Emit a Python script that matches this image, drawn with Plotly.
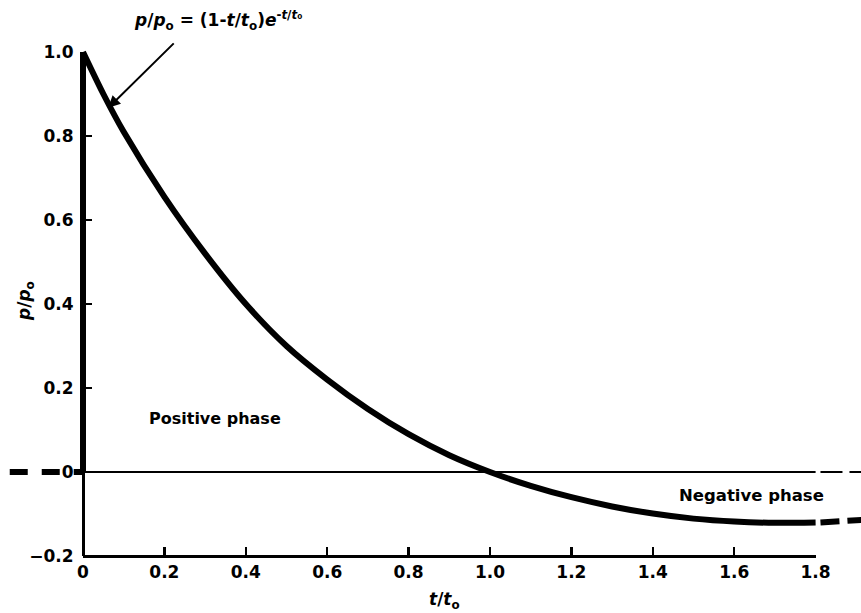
import plotly.graph_objects as go

# ---- data ----
t_decay = [0.0, 0.05, 0.1, 0.2, 0.3, 0.4, 0.5, 0.6, 0.7, 0.8, 0.9, 1.0,
           1.1, 1.2, 1.3, 1.4, 1.5, 1.6, 1.7, 1.8]
p_decay = [1.0, 0.90, 0.81, 0.655, 0.52, 0.40, 0.30, 0.22, 0.15, 0.09, 0.04, 0.0,
           -0.033, -0.06, -0.082, -0.099, -0.111, -0.118, -0.121, -0.120]
t_rise = [0.0, 0.0]
p_rise = [0.0, 1.0]
t_before = [-0.18, 0.0]
p_before = [0.0, 0.0]
t_after = [1.812, 1.912]
p_after = [-0.120, -0.114]
t_zero = [0.0, 1.8]
t_zero_after = [1.812, 1.912]
zero_vals = [0.0, 0.0]

x_ticks = [0, 0.2, 0.4, 0.6, 0.8, 1.0, 1.2, 1.4, 1.6, 1.8]
x_ticktext = ["0", "0.2", "0.4", "0.6", "0.8", "1.0", "1.2", "1.4", "1.6", "1.8"]
y_ticks = [-0.2, 0, 0.2, 0.4, 0.6, 0.8, 1.0]
y_ticktext = ["\u22120.2", "0", "0.2", "0.4", "0.6", "0.8", "1.0"]

W, H = 861, 613
FONT = "DejaVu Sans, Verdana, sans-serif"
PX_X = 407.0          # pixels per unit of t/t0
X0_PX = 83.0          # pixel of t = 0
PX_Y = 420.0          # pixels per unit of p/p0
Y0_PX = 472.0         # pixel of p = 0
BOTTOM = 556.0        # pixel of p = -0.2 (bottom of plot area)

x_range = [-X0_PX / PX_X, (W - X0_PX) / PX_X]
y_range = [-0.2, Y0_PX / PX_Y]

fig = go.Figure()
CURVE_W = 6

fig.add_trace(go.Scatter(x=t_zero, y=zero_vals, mode="lines",
                         line=dict(color="black", width=2), hoverinfo="skip"))
fig.add_trace(go.Scatter(x=t_zero_after, y=zero_vals, mode="lines",
                         line=dict(color="black", width=2, dash="22px,7px"), hoverinfo="skip"))
fig.add_trace(go.Scatter(x=t_before, y=p_before, mode="lines",
                         line=dict(color="black", width=CURVE_W, dash="18px,14px"), hoverinfo="skip"))
fig.add_trace(go.Scatter(x=t_rise, y=p_rise, mode="lines",
                         line=dict(color="black", width=CURVE_W), hoverinfo="skip"))
fig.add_trace(go.Scatter(x=t_decay, y=p_decay, mode="lines",
                         line=dict(color="black", width=CURVE_W, shape="spline", smoothing=0.8),
                         hoverinfo="skip"))
fig.add_trace(go.Scatter(x=t_after, y=p_after, mode="lines",
                         line=dict(color="black", width=CURVE_W, dash="19px,8px"), hoverinfo="skip"))
# trace on the visible axes subplot (invisible) so those axes render
fig.add_trace(go.Scatter(x=[0, 1.8], y=[-0.2, -0.2], xaxis="x2", yaxis="y2", mode="lines",
                         line=dict(color="rgba(0,0,0,0)", width=0), hoverinfo="skip"))

tickfont = dict(family=FONT, size=17, color="black", weight="bold")

fig.update_layout(
    width=W, height=H,
    margin=dict(l=0, r=0, t=0, b=H - BOTTOM, autoexpand=False),
    paper_bgcolor="white", plot_bgcolor="rgba(0,0,0,0)",
    showlegend=False,
    xaxis=dict(range=x_range, domain=[0, 1], visible=False, fixedrange=True, automargin=False),
    yaxis=dict(range=y_range, domain=[0, 1], visible=False, fixedrange=True, automargin=False),
    xaxis2=dict(range=[0, 1.8], domain=[X0_PX / W, (X0_PX + 1.8 * PX_X) / W],
                anchor="free", position=0, showline=True, linecolor="black", linewidth=2.5,
                ticks="inside", ticklen=8, tickwidth=2.5, tickcolor="black",
                tickvals=x_ticks, ticktext=x_ticktext, tickfont=tickfont, automargin=False,
                showgrid=False, zeroline=False, fixedrange=True),
    yaxis2=dict(range=[-0.2, 1.0], domain=[0, (BOTTOM - (Y0_PX - PX_Y)) / BOTTOM],
                anchor="free", position=X0_PX / W, showline=True, linecolor="black", linewidth=2.5,
                ticks="inside", ticklen=7, tickwidth=2.5, tickcolor="black",
                tickvals=y_ticks, ticktext=y_ticktext, tickfont=tickfont, automargin=False,
                ticklabelstandoff=5,
                showgrid=False, zeroline=False, fixedrange=True),
)

def py(pix):
    return (BOTTOM - pix) / BOTTOM

def px(pix):
    return pix / W

annots = [
    dict(text="<i>p</i>/<i>p</i><sub>o</sub> = (1-<i>t</i>/<i>t</i><sub>o</sub>)<i>e</i><sup>-<i>t</i>/<i>t</i>\u2080</sup>",
         x=px(218), y=py(21), size=17),
    dict(text="Positive phase", x=px(215), y=py(418), size=16),
    dict(text="Negative phase", x=px(751), y=py(495), size=16.5),
    dict(text="<i>t</i>/<i>t</i><sub>o</sub>", x=px(444), y=py(600), size=17),
]
for a in annots:
    fig.add_annotation(text=a["text"], x=a["x"], y=a["y"], xref="paper", yref="paper",
                       showarrow=False, xanchor="center", yanchor="middle",
                       font=dict(family=FONT, size=a["size"], color="black", weight="bold"))

fig.add_annotation(text="<i>p</i>/<i>p</i><sub>o</sub>", x=px(25), y=py(301), xref="paper", yref="paper",
                   showarrow=False, textangle=-90, xanchor="center", yanchor="middle",
                   font=dict(family=FONT, size=17, color="black", weight="bold"))

# arrow pointing to the curve
fig.add_annotation(x=0.062, y=0.867, xref="x", yref="y", text="", showarrow=True,
                   ax=67, ay=-66, arrowhead=2, arrowsize=1.2, arrowwidth=2, arrowcolor="black",
                   standoff=0)

fig.write_html("out.html", config={"displayModeBar": False, "staticPlot": True},
               post_script="document.body.style.margin='0';")
